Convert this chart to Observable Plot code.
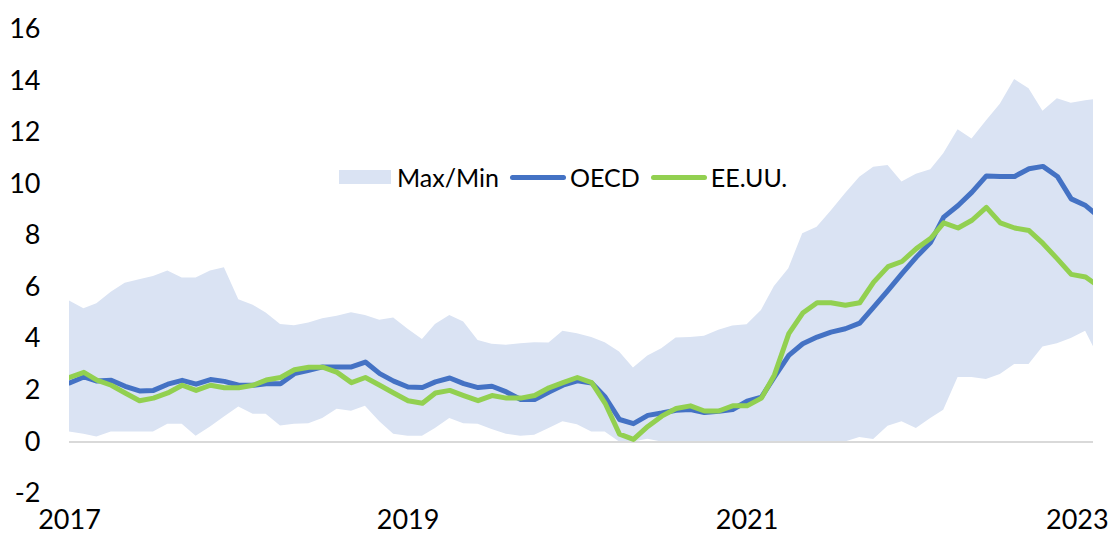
<!DOCTYPE html>
<html><head><meta charset="utf-8">
<script src="https://cdn.jsdelivr.net/npm/d3@7"></script>
<script src="https://cdn.jsdelivr.net/npm/@observablehq/plot@0.6"></script>
<style>
body{margin:0;background:#fff;font-family:Lato,sans-serif;}
#wrap{position:relative;width:1112px;height:536px;overflow:hidden;}
#legend{position:absolute;left:339px;top:162px;display:flex;align-items:center;font-size:25px;line-height:30px;color:#000;white-space:nowrap;font-family:Lato,sans-serif;}
#legend .rect{width:52px;height:14px;margin-right:6px;}
#legend .line{width:56px;height:5px;border-radius:3px;margin-right:4px;}
#legend .item{display:flex;align-items:center;margin-right:11px;}
</style></head><body><div id="wrap"><div id="legend"></div></div>
<script>
// Monthly observations, Jan 2017 .. Feb 2023 (the last one is clipped at the plot edge)
const startMonth = "2017-01";
const endMonth = "2023-02";

const oecd = [2.29,2.52,2.36,2.39,2.16,1.98,2.00,2.24,2.39,2.24,2.42,2.35,
              2.20,2.20,2.26,2.26,2.65,2.78,2.91,2.91,2.91,3.10,2.65,2.36,
              2.13,2.11,2.33,2.48,2.26,2.11,2.16,1.94,1.65,1.65,1.94,2.20,
              2.37,2.29,1.74,0.87,0.71,1.03,1.12,1.23,1.26,1.14,1.19,1.26,
              1.58,1.74,2.52,3.36,3.81,4.07,4.26,4.39,4.61,5.23,5.88,6.53,
              7.17,7.75,8.72,9.17,9.69,10.32,10.30,10.30,10.60,10.69,10.30,9.43,
              9.17,8.70];

const usa = [2.5,2.7,2.4,2.2,1.9,1.6,1.7,1.9,2.2,2.0,2.2,2.1,
             2.1,2.2,2.4,2.5,2.8,2.9,2.9,2.7,2.3,2.5,2.2,1.9,
             1.6,1.5,1.9,2.0,1.8,1.6,1.8,1.7,1.7,1.8,2.1,2.3,
             2.5,2.3,1.5,0.3,0.1,0.6,1.0,1.3,1.4,1.2,1.2,1.4,
             1.4,1.7,2.6,4.2,5.0,5.4,5.4,5.3,5.4,6.2,6.8,7.0,
             7.5,7.9,8.5,8.3,8.6,9.1,8.5,8.3,8.2,7.7,7.1,6.5,
             6.4,6.0];

const bandMax = [5.47,5.17,5.36,5.81,6.16,6.29,6.42,6.63,6.36,6.36,6.63,6.76,
                 5.52,5.30,5.00,4.56,4.51,4.61,4.78,4.88,5.01,4.91,4.72,4.81,
                 4.37,3.97,4.56,4.91,4.65,3.94,3.79,3.75,3.81,3.85,3.84,4.29,
                 4.20,4.05,3.85,3.49,2.87,3.33,3.62,4.03,4.05,4.10,4.33,4.50,
                 4.55,5.10,6.03,6.72,8.08,8.33,8.95,9.63,10.27,10.66,10.72,10.08,
                 10.38,10.56,11.18,12.11,11.75,12.45,13.10,14.06,13.70,12.83,13.31,13.14,
                 13.24,13.30];

const bandMin = [0.39,0.30,0.19,0.39,0.39,0.39,0.39,0.69,0.69,0.22,0.58,0.97,
                 1.36,1.07,1.07,0.62,0.69,0.71,0.91,1.27,1.19,1.38,0.78,0.30,
                 0.22,0.22,0.52,0.91,0.71,0.69,0.48,0.30,0.22,0.26,0.52,0.78,
                 0.67,0.39,0.39,0.00,0.00,0.10,0.00,0.00,0.00,0.00,0.00,0.00,
                 0.00,0.00,0.00,0.00,0.00,0.00,0.00,0.00,0.17,0.09,0.61,0.78,
                 0.52,0.91,1.23,2.50,2.50,2.42,2.62,3.00,3.00,3.68,3.81,4.01,
                 4.29,3.20];

const yTicks = [-2,0,2,4,6,8,10,12,14,16];
const xTickYears = ["2017","2019","2021","2023"];
const xDomain = ["2017-01-01","2023-01-18"];

const legendItems = [
  {label:"Max/Min", kind:"rect", color:"#dae3f3"},
  {label:"OECD", kind:"line", color:"#4472c4"},
  {label:"EE.UU.", kind:"line", color:"#92d050"}
];

const parseMonth = d3.utcParse("%Y-%m");
const months = d3.utcMonth.range(parseMonth(startMonth), d3.utcMonth.offset(parseMonth(endMonth), 1));
const data = months.map((d, i) => ({date: d, oecd: oecd[i], usa: usa[i], max: bandMax[i], min: bandMin[i]}));
const tickDates = xTickYears.map(y => d3.utcParse("%Y")(y));

const chart = Plot.plot({
  width: 1112, height: 536,
  marginLeft: 69, marginRight: 19, marginTop: 29, marginBottom: 43,
  style: {fontFamily: "Lato, sans-serif", fontSize: "27px", color: "#000", background: "transparent"},
  x: {type: "utc", domain: xDomain.map(s => d3.utcParse("%Y-%m-%d")(s))},
  y: {domain: [-2, 16]},
  marks: [
    Plot.areaY(data, {x: "date", y1: "min", y2: "max", fill: "#dae3f3", clip: true}),
    Plot.ruleY([0], {stroke: "#d9d9d9", strokeWidth: 2}),
    Plot.lineY(data, {x: "date", y: "oecd", stroke: "#4472c4", strokeWidth: 5, clip: true}),
    Plot.lineY(data, {x: "date", y: "usa", stroke: "#92d050", strokeWidth: 5, clip: true}),
    Plot.axisY({ticks: yTicks, tickFormat: d => String(d), tickSize: 0, tickPadding: 29, label: null, fontSize: 27}),
    Plot.axisX({ticks: tickDates.slice(0, 3), tickFormat: "%Y", tickSize: 0, tickPadding: 16, label: null, fontSize: 27}),
    Plot.axisX({ticks: tickDates.slice(3), tickFormat: "%Y", tickSize: 0, tickPadding: 16, label: null, fontSize: 27, textAnchor: "end", dx: 23})
  ]
});

const wrap = document.getElementById("wrap");
wrap.insertBefore(chart, wrap.firstChild);

const legend = document.getElementById("legend");
legendItems.forEach(it => {
  const item = document.createElement("div");
  item.className = "item";
  const sw = document.createElement("span");
  sw.className = it.kind;
  sw.style.background = it.color;
  const tx = document.createElement("span");
  tx.textContent = it.label;
  item.appendChild(sw);
  item.appendChild(tx);
  legend.appendChild(item);
});
</script>
</body></html>
